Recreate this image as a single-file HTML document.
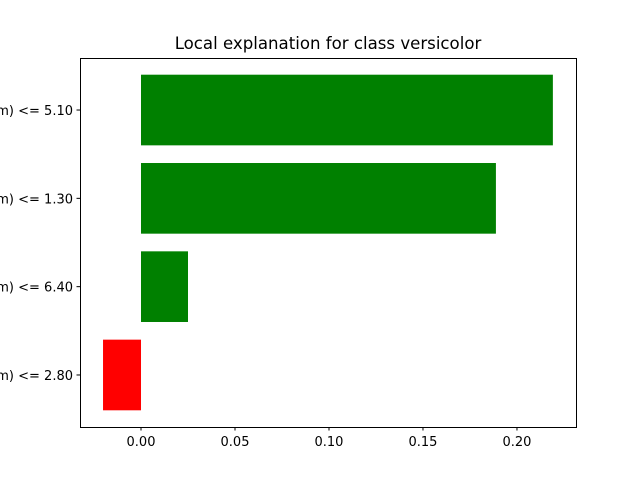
<!DOCTYPE html>
<html><head><meta charset="utf-8"><style>
body{margin:0;background:#fff;}
svg text{font-family:"DejaVu Sans","Liberation Sans",sans-serif;}
</style></head><body>
<svg id="chart" width="640" height="480">
<rect width="640" height="480" fill="#fff"/>
<text x="328" y="49" text-anchor="middle" font-size="16.6">Local explanation for class versicolor</text>
<g id="bars"></g><g id="yticks"></g><g id="xticks"></g>
<rect x="80.5" y="58.5" width="496" height="369" fill="none" stroke="#000" stroke-width="1"/>
</svg>
<script>
const categories = ["sepal width (cm) <= 2.80","sepal length (cm) <= 6.40","petal width (cm) <= 1.30","petal length (cm) <= 5.10"];
const values = [-0.0202, 0.025, 0.1888, 0.2191];
const xTicks = [0, 0.05, 0.10, 0.15, 0.20];
const xTickLabels = ["0.00","0.05","0.10","0.15","0.20"];
const ns="http://www.w3.org/2000/svg";
const X0=80,X1=576,Y0=58,Y1=427,xmin=-0.03245,xmax=0.2314;
const ymin=-0.589,ymax=3.589;
const xs=v=>X0+(v-xmin)/(xmax-xmin)*(X1-X0);
const ys=v=>Y1-(v-ymin)/(ymax-ymin)*(Y1-Y0);
const bh=(ys(0)-ys(0.8));
const bars=document.getElementById('bars'),yt=document.getElementById('yticks'),xt=document.getElementById('xticks');
categories.forEach((c,i)=>{
  const v=values[i];
  const r=document.createElementNS(ns,'rect');
  r.setAttribute('x',Math.min(xs(0),xs(v)));r.setAttribute('width',Math.abs(xs(v)-xs(0)));
  r.setAttribute('y',ys(i)-bh/2);r.setAttribute('height',bh);
  r.setAttribute('fill',v>=0?'#008000':'#ff0000');
  
  
  bars.appendChild(r);
  const l=document.createElementNS(ns,'line');
  l.setAttribute('x1',X0-3.5);l.setAttribute('x2',X0);l.setAttribute('y1',ys(i));l.setAttribute('y2',ys(i));l.setAttribute('stroke','#000');
  
  
  yt.appendChild(l);
  const t=document.createElementNS(ns,'text');
  t.setAttribute('x',X0-7);t.setAttribute('y',ys(i)+5);t.setAttribute('text-anchor','end');t.setAttribute('font-size','13');
  t.textContent=c;
  
  
  yt.appendChild(t);
});
xTicks.forEach((v,i)=>{
  const l=document.createElementNS(ns,'line');
  l.setAttribute('x1',xs(v));l.setAttribute('x2',xs(v));l.setAttribute('y1',Y1);l.setAttribute('y2',Y1+3.5);l.setAttribute('stroke','#000');
  
  
  xt.appendChild(l);
  const t=document.createElementNS(ns,'text');
  t.setAttribute('x',xs(v));t.setAttribute('y',Y1+19);t.setAttribute('text-anchor','middle');t.setAttribute('font-size','13');
  t.textContent=xTickLabels[i];
  
  
  xt.appendChild(t);
});
</script>
</body></html>
